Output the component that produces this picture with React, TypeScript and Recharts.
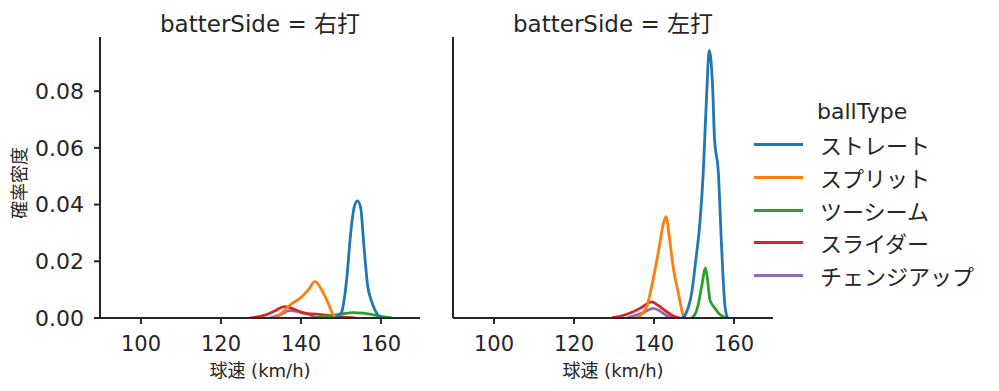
import React from 'react';
import { LineChart, Line, XAxis, YAxis } from 'recharts';

// ball types in legend order, with tab10 colours
const BALL_TYPES = ['ストレート', 'スプリット', 'ツーシーム', 'スライダー', 'チェンジアップ'];
const COLORS = ['#1f77b4', '#ff7f0e', '#2ca02c', '#d62728', '#9467bd'];
const PANELS = ['右打', '左打'];

const X_TICKS = [100, 120, 140, 160];
const Y_TICKS = [0, 0.02, 0.04, 0.06, 0.08];

// [speed km/h, density], batterSide = 右打
const R_STRAIGHT = [[148.5, 0], [149.5, 0.0008], [150.2, 0.0022], [151.4, 0.0134], [152.5, 0.031], [153.3, 0.0392], [154.1, 0.0413], [154.9, 0.039], [155.75, 0.0251], [156.7, 0.011], [157.4, 0.0069], [158.5, 0.0028], [159.5, 0.0006], [160.2, 0]];
const R_SPLIT = [[133.5, 0], [135, 0.0015], [137.25, 0.0046], [140.2, 0.0075], [141.8, 0.0099], [143.5, 0.0128], [145.2, 0.0099], [146.8, 0.0052], [148, 0.0012], [148.9, 0]];
const R_TWOSEAM = [[143.1, 0], [145.5, 0.0005], [148.1, 0.001], [150.5, 0.0015], [153.1, 0.0019], [155.5, 0.0017], [157.25, 0.0014], [160, 0.0006], [162.7, 0]];
const R_SLIDER = [[127.3, 0], [129, 0.0004], [131, 0.001], [133, 0.0022], [136, 0.004], [138.5, 0.003], [141, 0.0016], [143.9, 0.0014], [146.4, 0.001], [150, 0.0004], [153.5, 0]];
const R_CHANGEUP = [[132.25, 0], [134.5, 0.001], [137.25, 0.0026], [139.5, 0.0022], [141.4, 0.0016], [143.9, 0]];

// batterSide = 左打
const L_STRAIGHT = [[146.9, 0], [147.75, 0.001], [149.4, 0.0087], [150.5, 0.021], [151.5, 0.034], [152.3, 0.051], [153.2, 0.08], [153.8, 0.0944], [154.7, 0.08], [155.1, 0.064], [156.1, 0.051], [156.9, 0.025], [157.75, 0.004], [158.4, 0]];
const L_SPLIT = [[135.7, 0], [137, 0.0015], [138.2, 0.004], [139.4, 0.011], [141.3, 0.025], [142.3, 0.033], [143, 0.0357], [143.8, 0.029], [144.8, 0.018], [146.1, 0.0087], [147.3, 0.001], [148, 0]];
const L_TWOSEAM = [[149.4, 0], [150.5, 0.002], [151.1, 0.005], [151.9, 0.011], [152.9, 0.0177], [153.5, 0.012], [154, 0.0063], [155.25, 0.0034], [156.5, 0.0012], [158.2, 0]];
const L_SLIDER = [[129.4, 0], [132, 0.0008], [134.8, 0.0022], [137, 0.0038], [139.4, 0.0057], [141, 0.0045], [143.2, 0.0022], [145, 0.0006], [146.5, 0]];
const L_CHANGEUP = [[133.2, 0], [135.5, 0.001], [137.5, 0.002], [139.8, 0.0034], [141.5, 0.0025], [143, 0.001], [144.8, 0]];

const SERIES_BY_PANEL = [
  [R_STRAIGHT, R_SPLIT, R_TWOSEAM, R_SLIDER, R_CHANGEUP],
  [L_STRAIGHT, L_SPLIT, L_TWOSEAM, L_SLIDER, L_CHANGEUP],
];

const FONT = '"DejaVu Sans", "Noto Sans CJK JP", sans-serif';
const INK = '#262626';

const toPoints = (pairs: number[][]) => pairs.map(([x, y]) => ({ x, y }));

const Panel = ({ idx, left }: { idx: number; left: number }) => {
  const series = SERIES_BY_PANEL[idx];
  // seaborn draws the hue levels in reverse, so the first one ends up on top
  const order = [4, 3, 2, 1, 0];
  return (
    <div style={{ position: 'absolute', left, top: 0 }}>
      <LineChart width={440} height={391} margin={{ top: 37, right: 20, bottom: 0, left: 0 }}>
        <XAxis
          type="number"
          dataKey="x"
          domain={[89.75, 169.75]}
          ticks={X_TICKS}
          allowDataOverflow
          height={73}
          tickSize={6}
          tickMargin={12}
          stroke={INK}
          strokeWidth={2}
          tick={{ fill: INK, fontSize: 21, fontFamily: FONT }}
          label={{ value: '球速 (km/h)', position: 'insideBottom', offset: 14, fill: INK, fontSize: 18, fontFamily: FONT }}
        />
        <YAxis
          type="number"
          dataKey="y"
          domain={[0, 0.0991]}
          ticks={Y_TICKS}
          allowDataOverflow
          width={100}
          tickSize={6}
          tickMargin={10}
          stroke={INK}
          strokeWidth={2}
          tick={idx === 0 ? { fill: INK, fontSize: 22, fontFamily: FONT } : false}
          tickLine={{ stroke: INK, strokeWidth: 2 }}
          tickFormatter={(v: number) => v.toFixed(2)}
        />
        {order.map((i) => (
          <Line
            key={BALL_TYPES[i]}
            data={toPoints(series[i])}
            dataKey="y"
            type="monotone"
            stroke={COLORS[i]}
            strokeWidth={2.8}
            dot={false}
            activeDot={false}
            isAnimationActive={false}
          />
        ))}
      </LineChart>
      <div
        style={{
          position: 'absolute', left: 100, width: 320, top: 5, textAlign: 'center',
          fontFamily: FONT, fontSize: 23, color: INK, whiteSpace: 'nowrap',
        }}
      >
        batterSide = {PANELS[idx]}
      </div>
    </div>
  );
};

export default function App() {
  return (
    <div style={{ position: 'absolute', left: 0, top: 0, width: 999, height: 391, background: '#fff', overflow: 'hidden' }}>
      <Panel idx={0} left={0} />
      <Panel idx={1} left={353} />
      <div
        style={{
          position: 'absolute', left: 18, top: 183, transform: 'translate(-50%, -50%) rotate(-90deg)',
          fontFamily: FONT, fontSize: 18, color: INK, whiteSpace: 'nowrap',
        }}
      >
        確率密度
      </div>
      <div style={{ position: 'absolute', left: 817, top: 99, fontFamily: FONT, fontSize: 22, color: INK }}>ballType</div>
      {BALL_TYPES.map((name, i) => (
        <div key={name} style={{ position: 'absolute', left: 754, top: [146, 179, 212, 244, 277][i] - 17, height: 30, display: 'flex', alignItems: 'center' }}>
          <div style={{ width: 49, height: 3, background: COLORS[i] }} />
          <div style={{ marginLeft: 17, fontFamily: FONT, fontSize: 22, color: INK, whiteSpace: 'nowrap' }}>{name}</div>
        </div>
      ))}
    </div>
  );
}
